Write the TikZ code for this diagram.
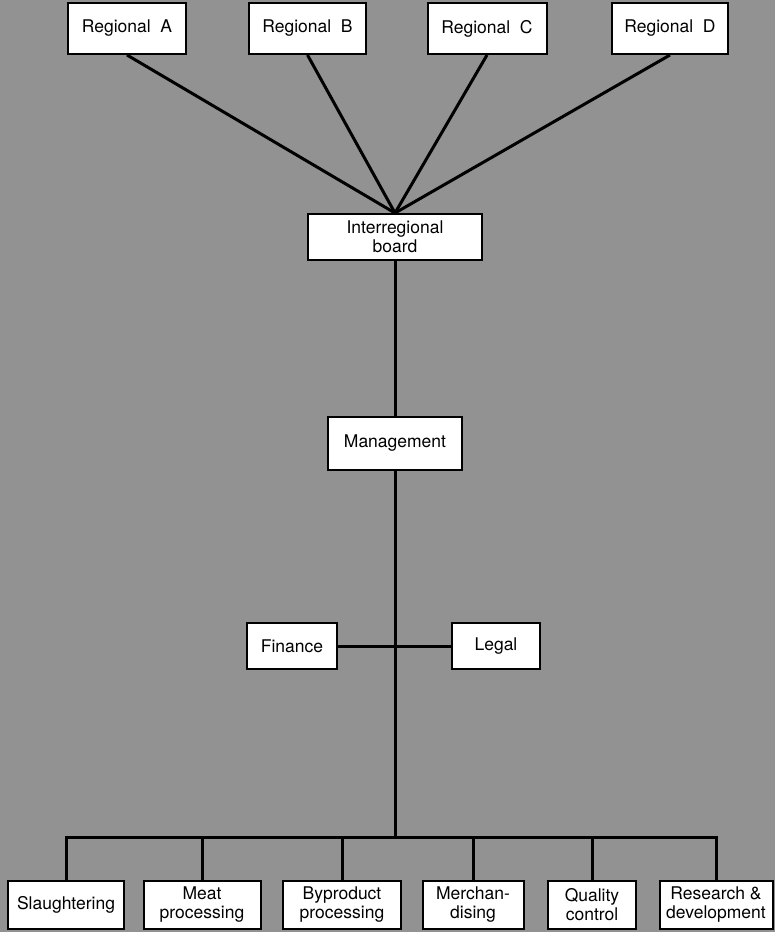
\documentclass[tikz,border=0pt]{standalone}
\usepackage{fontspec}
\setmainfont{TeX Gyre Heros}
\definecolor{bg}{RGB}{146,146,146}
\begin{document}
\begin{tikzpicture}[x=1pt,y=-1pt,
  box/.style={draw=black,line width=2pt,fill=white,rectangle,inner sep=0pt,
    align=center,font=\fontsize{17.5}{19}\selectfont},
  link/.style={draw=black,line width=3pt}]
\fill[bg] (0,0) rectangle (775,932);
\useasboundingbox (0,0) rectangle (775,932);
% top row
\node[box,minimum width=118pt,minimum height=51pt] (ra) at (127,28.5) {Regional\ \ A};
\node[box,minimum width=117pt,minimum height=51pt] (rb) at (307.5,28.5) {Regional\ \ B};
\node[box,minimum width=119pt,minimum height=51pt] (rc) at (487,28.5) {Regional\ \ C};
\node[box,minimum width=116pt,minimum height=51pt] (rd) at (670,28.5) {Regional\ \ D};
% board and management
\node[box,minimum width=174pt,minimum height=46pt] (ib) at (395,237) {Interregional\\board};
\node[box,minimum width=134pt,minimum height=53pt] (mg) at (395,443.5) {Management};
\node[box,minimum width=90pt,minimum height=46pt] (fin) at (292,646) {Finance};
\node[box,minimum width=88pt,minimum height=46pt] (leg) at (496,646) {Legal};
% bottom row
\node[box,minimum width=116pt,minimum height=48pt] (sl) at (66,905) {Slaughtering};
\node[box,minimum width=117pt,minimum height=48pt] (mp) at (202,905) {Meat\\processing};
\node[box,minimum width=118pt,minimum height=48pt] (bp) at (342,905) {Byproduct\\processing};
\node[box,minimum width=101pt,minimum height=48pt] (me) at (473,905) {Merchan-\\dising};
\node[box,minimum width=88pt,minimum height=48pt] (qc) at (592,905) {Quality\\control};
\node[box,minimum width=113pt,minimum height=48pt] (rd2) at (716,905) {Research \&\\development};
\coordinate (bus) at (395,837);
% connectors
\draw[link] (ra.south) -- (ib.north);
\draw[link] (rb.south) -- (ib.north);
\draw[link] (rc.south) -- (ib.north);
\draw[link] (rd.south) -- (ib.north);
\draw[link] (ib.south) -- (mg.north);
\draw[link] (mg.south) -- (bus);
\draw[link] (fin.east) -- (leg.west);
\draw[link] (bus) -| (sl.north);
\draw[link] (bus) -| (mp.north);
\draw[link] (bus) -| (bp.north);
\draw[link] (bus) -| (me.north);
\draw[link] (bus) -| (qc.north);
\draw[link] (bus) -| (rd2.north);
\end{tikzpicture}
\end{document}
